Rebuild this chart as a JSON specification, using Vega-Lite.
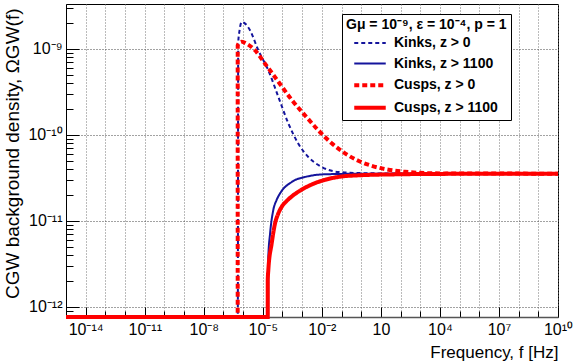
{
  "$schema": "https://vega.github.io/schema/vega-lite/v6.json",
  "width": 492,
  "height": 313,
  "autosize": {"type": "none"},
  "padding": {"left": 66, "top": 4, "right": 23, "bottom": 46},
  "background": "white",
  "config": {
    "view": {"stroke": "#000", "strokeWidth": 1},
    "font": "Liberation Sans"
  },
  "data": {
    "values": [
      {"series": "Kinks, z > 0", "f": 1e-15, "omega": 1e-13},
      {"series": "Kinks, z > 0", "f": 5.37e-7, "omega": 1e-13},
      {"series": "Kinks, z > 0", "f": 5.62e-7, "omega": 1.16e-9},
      {"series": "Kinks, z > 0", "f": 6.61e-7, "omega": 1.65e-9},
      {"series": "Kinks, z > 0", "f": 8.51e-7, "omega": 2.06e-9},
      {"series": "Kinks, z > 0", "f": 1.26e-6, "omega": 1.97e-9},
      {"series": "Kinks, z > 0", "f": 2.24e-6, "omega": 1.65e-9},
      {"series": "Kinks, z > 0", "f": 5.89e-6, "omega": 9.66e-10},
      {"series": "Kinks, z > 0", "f": 1.905e-5, "omega": 5.65e-10},
      {"series": "Kinks, z > 0", "f": 6.17e-5, "omega": 2.77e-10},
      {"series": "Kinks, z > 0", "f": 2.0e-4, "omega": 1.36e-10},
      {"series": "Kinks, z > 0", "f": 6.31e-4, "omega": 7.94e-11},
      {"series": "Kinks, z > 0", "f": 2.04e-3, "omega": 5.55e-11},
      {"series": "Kinks, z > 0", "f": 9.77e-3, "omega": 4.25e-11},
      {"series": "Kinks, z > 0", "f": 0.0692, "omega": 3.71e-11},
      {"series": "Kinks, z > 0", "f": 1, "omega": 3.6e-11},
      {"series": "Kinks, z > 0", "f": 100, "omega": 3.56e-11},
      {"series": "Kinks, z > 0", "f": 1e10, "omega": 3.55e-11},

      {"series": "Kinks, z > 1100", "f": 1e-15, "omega": 1e-13},
      {"series": "Kinks, z > 1100", "f": 1.86e-5, "omega": 1e-13},
      {"series": "Kinks, z > 1100", "f": 1.905e-5, "omega": 3.81e-12},
      {"series": "Kinks, z > 1100", "f": 2.34e-5, "omega": 7.13e-12},
      {"series": "Kinks, z > 1100", "f": 3.39e-5, "omega": 1.33e-11},
      {"series": "Kinks, z > 1100", "f": 5.01e-5, "omega": 1.75e-11},
      {"series": "Kinks, z > 1100", "f": 7.41e-5, "omega": 2.08e-11},
      {"series": "Kinks, z > 1100", "f": 2.95e-4, "omega": 2.84e-11},
      {"series": "Kinks, z > 1100", "f": 2.04e-3, "omega": 3.31e-11},
      {"series": "Kinks, z > 1100", "f": 0.01445, "omega": 3.49e-11},
      {"series": "Kinks, z > 1100", "f": 1, "omega": 3.54e-11},
      {"series": "Kinks, z > 1100", "f": 1e10, "omega": 3.55e-11},

      {"series": "Cusps, z > 0", "f": 1e-15, "omega": 1e-13},
      {"series": "Cusps, z > 0", "f": 5.30e-7, "omega": 1e-13},
      {"series": "Cusps, z > 0", "f": 5.31e-7, "omega": 1.1e-9},
      {"series": "Cusps, z > 0", "f": 6.6e-7, "omega": 1.18e-9},
      {"series": "Cusps, z > 0", "f": 8.51e-7, "omega": 1.21e-9},
      {"series": "Cusps, z > 0", "f": 1.51e-6, "omega": 1.15e-9},
      {"series": "Cusps, z > 0", "f": 3.98e-6, "omega": 9.66e-10},
      {"series": "Cusps, z > 0", "f": 1.29e-5, "omega": 6.76e-10},
      {"series": "Cusps, z > 0", "f": 6.17e-5, "omega": 4.16e-10},
      {"series": "Cusps, z > 0", "f": 2.95e-4, "omega": 2.56e-10},
      {"series": "Cusps, z > 0", "f": 1.39e-3, "omega": 1.69e-10},
      {"series": "Cusps, z > 0", "f": 6.61e-3, "omega": 1.135e-10},
      {"series": "Cusps, z > 0", "f": 0.0316, "omega": 8.0e-11},
      {"series": "Cusps, z > 0", "f": 0.150, "omega": 6.12e-11},
      {"series": "Cusps, z > 0", "f": 0.713, "omega": 5.01e-11},
      {"series": "Cusps, z > 0", "f": 3.42, "omega": 4.38e-11},
      {"series": "Cusps, z > 0", "f": 16.2, "omega": 4.01e-11},
      {"series": "Cusps, z > 0", "f": 168, "omega": 3.73e-11},
      {"series": "Cusps, z > 0", "f": 3133, "omega": 3.59e-11},
      {"series": "Cusps, z > 0", "f": 1e5, "omega": 3.56e-11},
      {"series": "Cusps, z > 0", "f": 1e10, "omega": 3.55e-11},

      {"series": "Cusps, z > 1100", "f": 1e-15, "omega": 1e-13},
      {"series": "Cusps, z > 1100", "f": 1.78e-5, "omega": 1e-13},
      {"series": "Cusps, z > 1100", "f": 1.785e-5, "omega": 2.04e-12},
      {"series": "Cusps, z > 1100", "f": 1.905e-5, "omega": 2.67e-12},
      {"series": "Cusps, z > 1100", "f": 2.82e-5, "omega": 5.46e-12},
      {"series": "Cusps, z > 1100", "f": 4.17e-5, "omega": 9.33e-12},
      {"series": "Cusps, z > 1100", "f": 5.92e-5, "omega": 1.2e-11},
      {"series": "Cusps, z > 1100", "f": 9.45e-5, "omega": 1.48e-11},
      {"series": "Cusps, z > 1100", "f": 1.70e-4, "omega": 1.72e-11},
      {"series": "Cusps, z > 1100", "f": 3.05e-4, "omega": 1.94e-11},
      {"series": "Cusps, z > 1100", "f": 7.76e-4, "omega": 2.25e-11},
      {"series": "Cusps, z > 1100", "f": 2.5e-3, "omega": 2.6e-11},
      {"series": "Cusps, z > 1100", "f": 0.01445, "omega": 3.01e-11},
      {"series": "Cusps, z > 1100", "f": 0.0832, "omega": 3.27e-11},
      {"series": "Cusps, z > 1100", "f": 0.861, "omega": 3.4e-11},
      {"series": "Cusps, z > 1100", "f": 93.3, "omega": 3.49e-11},
      {"series": "Cusps, z > 1100", "f": 3.24e4, "omega": 3.53e-11},
      {"series": "Cusps, z > 1100", "f": 1e10, "omega": 3.55e-11}
    ]
  },
  "encoding": {
    "x": {
      "field": "f", "type": "quantitative",
      "scale": {"type": "log", "domain": [1e-15, 1e10], "nice": false},
      "axis": {
        "values": [1e-15,1e-14,1e-13,1e-12,1e-11,1e-10,1e-9,1e-8,1e-7,1e-6,1e-5,1e-4,1e-3,1e-2,1e-1,1,10,100,1000,1e4,1e5,1e6,1e7,1e8,1e9,1e10],
        "labelExpr": "(round(log(datum.value)/LN10)+14)%3==0 ? ['10⁻¹⁴','10⁻¹¹','10⁻⁸','10⁻⁵','10⁻²','10','10⁴','10⁷','10¹⁰'][(round(log(datum.value)/LN10)+14)/3] : ''",
        "labelFont": "Liberation Sans", "labelFontSize": 16, "labelColor": "#000",
        "labelPadding": 14, "labelFlush": false, "labelOverlap": false, "labelBound": false,
        "tickSize": {"condition": {"test": "(round(log(datum.value)/LN10)+14)%3==0", "value": -10}, "value": -6},
        "tickColor": "#000", "tickWidth": 1,
        "grid": true, "gridColor": "#777", "gridDash": [1, 2], "gridWidth": 1,
        "domainColor": "#555", "domainWidth": 1.5,
        "title": "Frequency, f [Hz]",
        "titleFont": "Liberation Sans", "titleFontSize": 17, "titleFontWeight": "normal", "titleColor": "#000",
        "titleAnchor": "end", "titleAlign": "right", "titleBaseline": "alphabetic",
        "titleX": 492, "titleY": 40
      }
    },
    "y": {
      "field": "omega", "type": "quantitative",
      "scale": {"type": "log", "domain": [7.65e-13, 3.33e-9], "nice": false, "clamp": true},
      "axis": {
        "values": [8e-13,9e-13,1e-12,2e-12,3e-12,4e-12,5e-12,6e-12,7e-12,8e-12,9e-12,1e-11,2e-11,3e-11,4e-11,5e-11,6e-11,7e-11,8e-11,9e-11,1e-10,2e-10,3e-10,4e-10,5e-10,6e-10,7e-10,8e-10,9e-10,1e-9,2e-9,3e-9],
        "labelExpr": "abs(log(datum.value)/LN10 - round(log(datum.value)/LN10)) < 0.001 ? ['10⁻¹²','10⁻¹¹','10⁻¹⁰','10⁻⁹'][round(log(datum.value)/LN10)+12] : ''",
        "labelFont": "Liberation Sans", "labelFontSize": 16, "labelColor": "#000",
        "labelPadding": 17, "labelFlush": false, "labelOverlap": false, "labelBound": false,
        "tickSize": {"condition": {"test": "abs(log(datum.value)/LN10 - round(log(datum.value)/LN10)) < 0.001", "value": -13}, "value": -7},
        "tickColor": "#000", "tickWidth": 1,
        "grid": true, "gridColor": "#444", "gridDash": [1, 2], "gridWidth": 1,
        "gridOpacity": {"condition": {"test": "abs(log(datum.value)/LN10 - round(log(datum.value)/LN10)) < 0.001", "value": 1}, "value": 0},
        "domainColor": "#000", "domainWidth": 1,
        "title": "CGW background density, ΩGW(f)",
        "titleFont": "Liberation Sans", "titleFontSize": 19, "titleFontWeight": "normal", "titleColor": "#000",
        "titleAnchor": "end", "titleAngle": -90, "titleAlign": "right", "titleBaseline": "alphabetic",
        "titleX": -48, "titleY": 4
      }
    },
    "color": {
      "field": "series", "type": "nominal",
      "scale": {"domain": ["Kinks, z > 0", "Kinks, z > 1100", "Cusps, z > 0", "Cusps, z > 1100"], "range": ["#14149c", "#14149c", "#ff0000", "#ff0000"]},
      "legend": {
        "title": "Gμ = 10⁻⁹, ε = 10⁻⁴, p = 1\u00a0\u00a0\u00a0\u00a0\u00a0\u00a0\u00a0\u00a0\u00a0\u00a0",
        "orient": "none", "legendX": 276, "legendY": 10,
        "fillColor": "white", "strokeColor": "#000", "padding": 4,
        "titleFont": "Liberation Sans", "titleFontSize": 14, "titleFontWeight": "bold", "titleColor": "#000",
        "titleAnchor": "start", "titleAlign": "left",
        "titlePadding": 4,
        "labelFont": "Liberation Sans", "labelFontSize": 14, "labelFontWeight": "bold", "labelColor": "#000",
        "symbolType": "M-2.1,0H2.1", "symbolSize": 225, "symbolOffset": 17, "labelOffset": 17,
        "rowPadding": 6.6, "labelLimit": 300, "titleLimit": 400,
        "encode": {
          "symbols": {
            "update": {
              "strokeWidth": {"signal": "indexof(['Cusps, z > 0', 'Cusps, z > 1100'], datum.value) >= 0 ? 4 : 2"}
            }
          }
        }
      }
    },
    "strokeDash": {
      "field": "series", "type": "nominal",
      "scale": {"domain": ["Kinks, z > 0", "Kinks, z > 1100", "Cusps, z > 0", "Cusps, z > 1100"], "range": [[4, 3], [1, 0], [5, 3], [1, 0]]}
    }
  },
  "layer": [
    {"transform": [{"filter": "datum.series == 'Kinks, z > 0'"}], "mark": {"type": "line", "clip": false, "interpolate": "monotone", "strokeWidth": 2}},
    {"transform": [{"filter": "datum.series == 'Kinks, z > 1100'"}], "mark": {"type": "line", "clip": false, "interpolate": "monotone", "strokeWidth": 2}},
    {"transform": [{"filter": "datum.series == 'Cusps, z > 0'"}], "mark": {"type": "line", "clip": false, "interpolate": "monotone", "strokeWidth": 4}},
    {"transform": [{"filter": "datum.series == 'Cusps, z > 1100'"}], "mark": {"type": "line", "clip": false, "interpolate": "monotone", "strokeWidth": 4}}
  ]
}
